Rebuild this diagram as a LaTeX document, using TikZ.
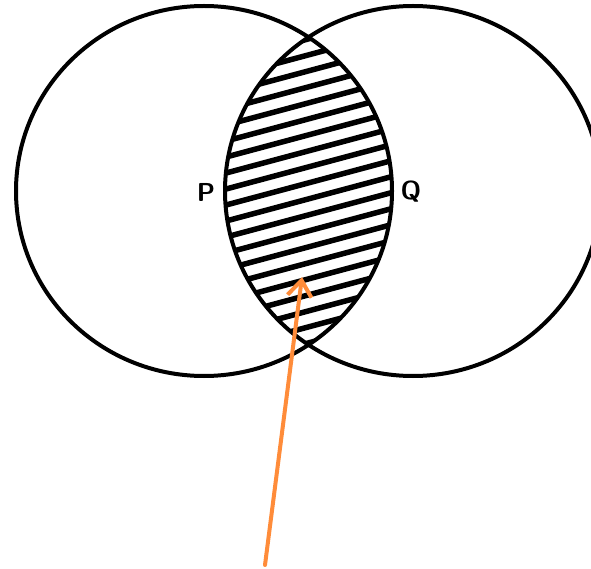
\documentclass[tikz,border=0pt]{standalone}
\usepackage{tikz}
\usetikzlibrary{arrows.meta}
\definecolor{pointer}{HTML}{FF8C3A}

\begin{document}
\begin{tikzpicture}[x=1pt,y=-1pt,
  ring/.style={draw=black,line width=4pt},
  hatch/.style={black,line width=5.5pt},
  lbl/.style={font=\fontsize{26}{26}\selectfont\sffamily\bfseries,inner sep=0pt}]
\useasboundingbox (0,0) rectangle (591,569);
\clip (0,0) rectangle (591,569);

% ---- hatched overlap
\begin{scope}
  \clip (204,191) ellipse[x radius=188,y radius=185];
  \clip (413,191) ellipse[x radius=188,y radius=185];
  \foreach \y in {20,36,...,420}
    \draw[hatch] (200,\y) -- (420,\y-59);
\end{scope}

% ---- the two sets
\draw[ring] (204,191) ellipse[x radius=188,y radius=185];
\draw[ring] (413,191) ellipse[x radius=188,y radius=185];
\node[lbl] (p) at (206,192) {P};
\node[lbl] (q) at (411,192) {Q};

% ---- pointer to the overlap
\coordinate (tail) at (265,565);
\coordinate (tip) at (302,277);
\draw[-{Straight Barb[length=16pt,width=24pt]},pointer,line width=4pt,line cap=round] (tail) -- (tip);
\end{tikzpicture}
\end{document}
